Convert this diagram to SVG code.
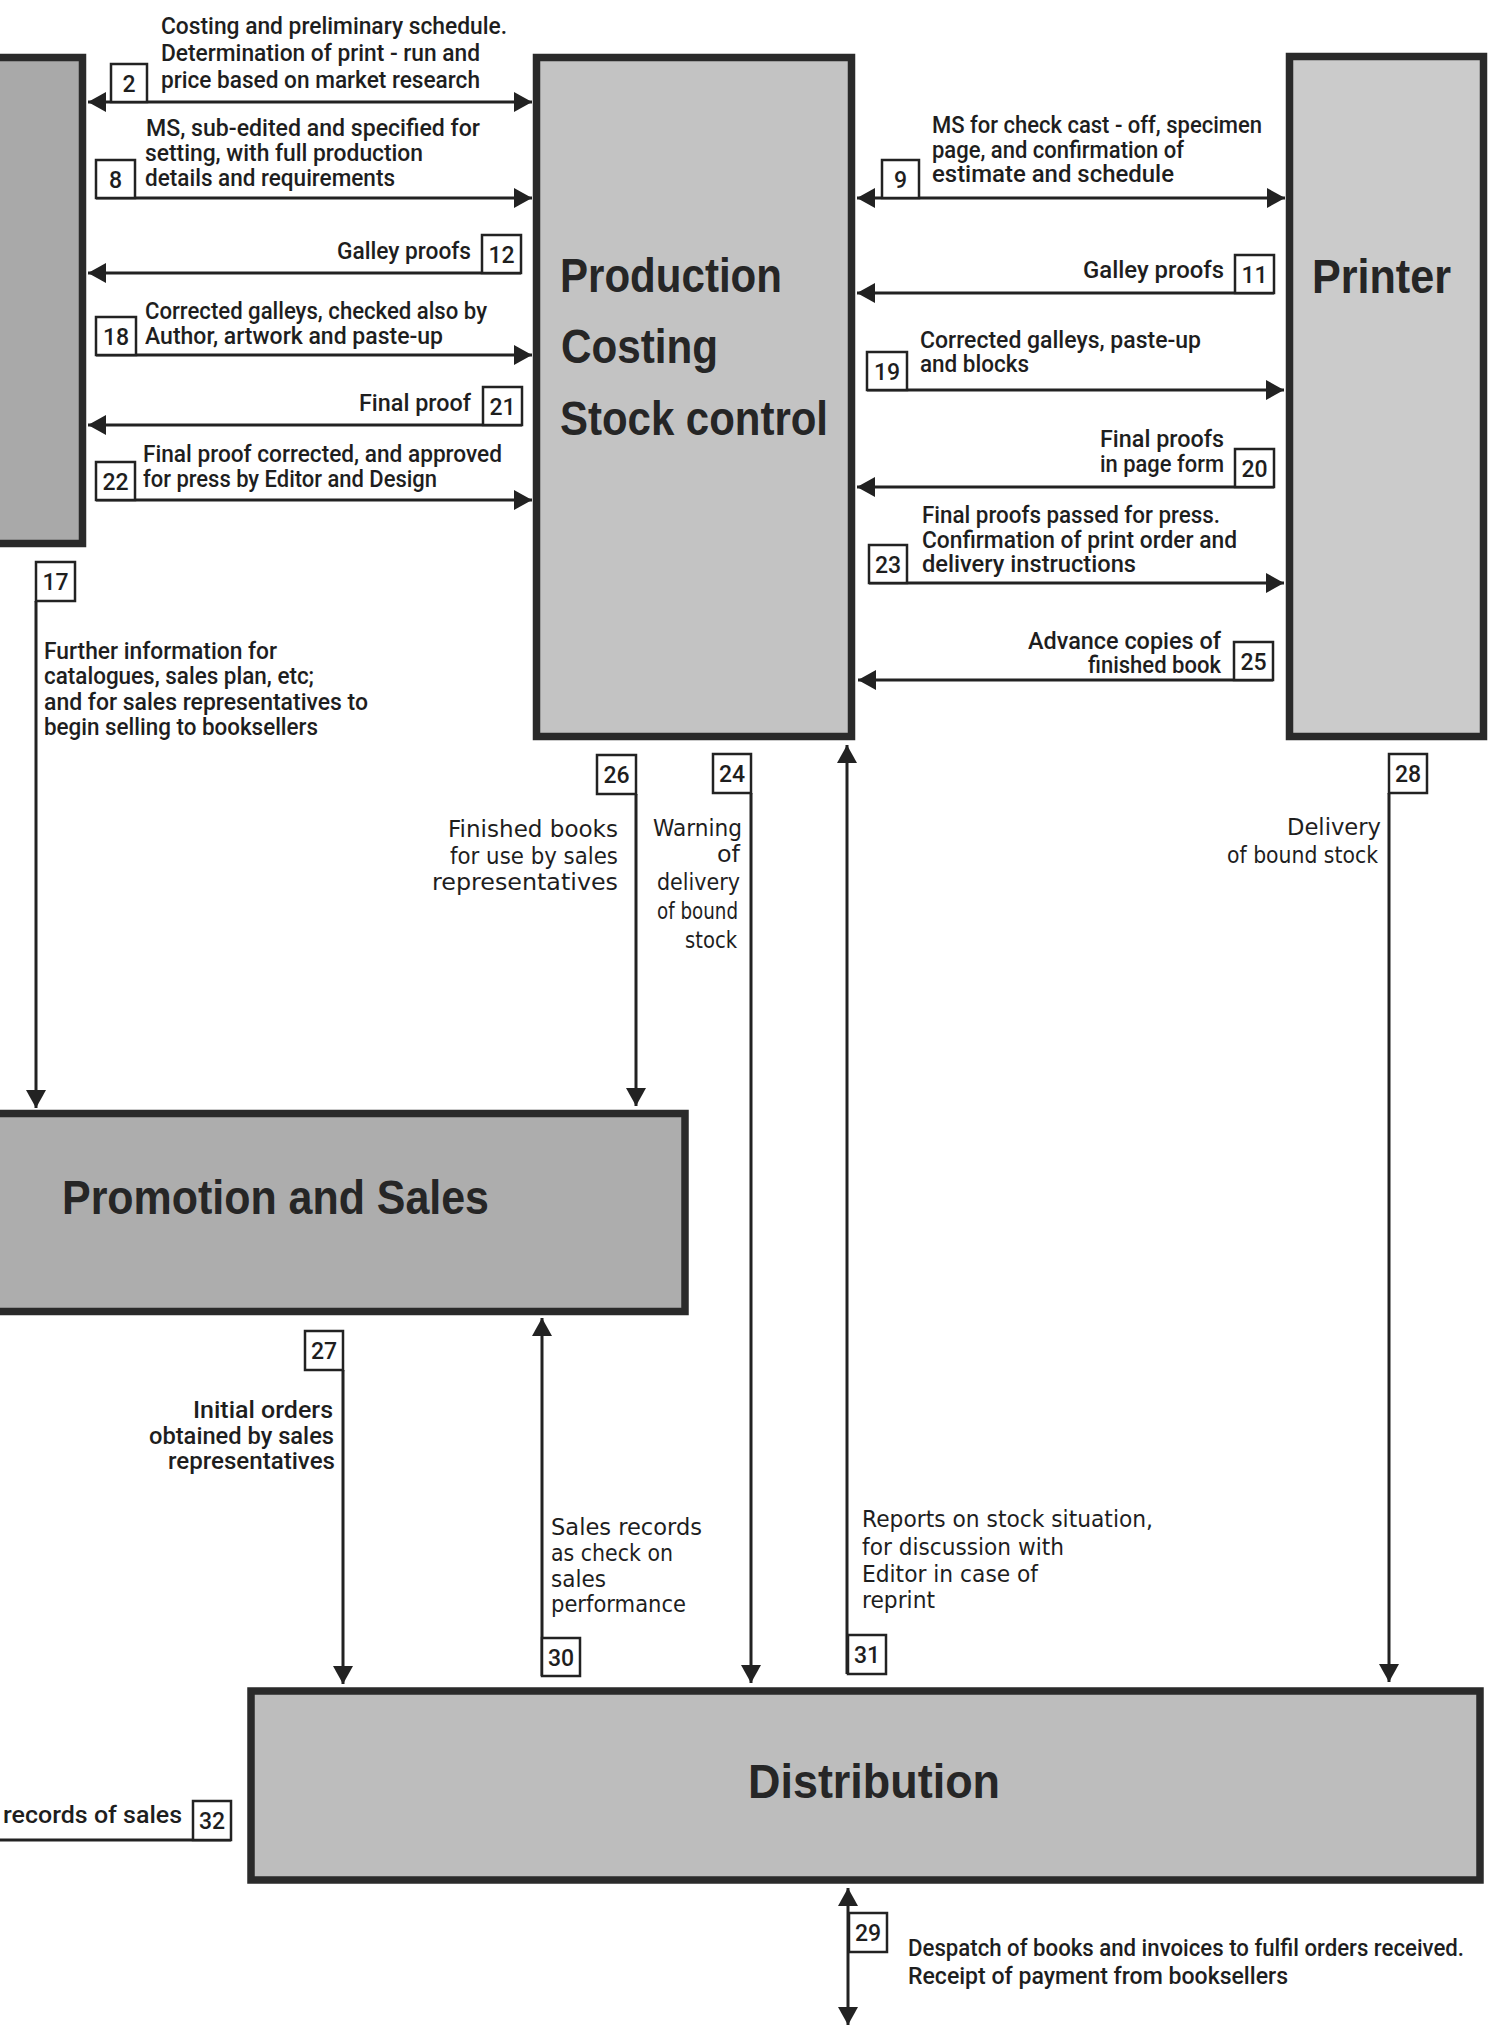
<svg xmlns="http://www.w3.org/2000/svg" width="1498" height="2025" viewBox="0 0 1498 2025">
<style>
.box{stroke:#2a2a2a;stroke-width:7.5}
.ln{stroke:#222;stroke-width:3;fill:none}
.nb{fill:#fff;stroke:#222;stroke-width:2.5}
.t{font-family:Roboto,"Liberation Sans",Arial,sans-serif;font-weight:500;font-size:24px;fill:#1e1e1e}
.r{font-family:"DejaVu Sans","Noto Sans",sans-serif;font-size:23px;fill:#1e1e1e}
.n{font-family:Roboto,"Liberation Sans",Arial,sans-serif;font-weight:500;font-size:23px;fill:#1e1e1e;text-anchor:middle}
.h{font-family:"Liberation Sans",Arial,sans-serif;font-weight:bold;font-size:48px;fill:#262626}
</style>
<defs>
<marker id="ah" viewBox="0 0 18 20" refX="18" refY="10" markerWidth="18" markerHeight="20" markerUnits="userSpaceOnUse" orient="auto-start-reverse"><path d="M0,0 L18,10 L0,20 z" fill="#222"/></marker>
</defs>
<rect width="1498" height="2025" fill="#fff"/>

<g id="editorial">
<rect class="box" x="-10" y="57.5" width="92.5" height="486" fill="#a9a9a9"/>
</g>
<g id="production">
<rect class="box" x="536.5" y="57.5" width="315" height="679" fill="#c3c3c3"/>
<text class="h" x="560" y="292" textLength="222" lengthAdjust="spacingAndGlyphs">Production</text>
<text class="h" x="561" y="363" textLength="157" lengthAdjust="spacingAndGlyphs">Costing</text>
<text class="h" x="560" y="435" textLength="268" lengthAdjust="spacingAndGlyphs">Stock control</text>
</g>
<g id="printer">
<rect class="box" x="1289.5" y="56.5" width="194" height="680" fill="#cbcbcb"/>
<text class="h" x="1312" y="293" textLength="139" lengthAdjust="spacingAndGlyphs">Printer</text>
</g>
<g id="promotion">
<rect class="box" x="-10" y="1113.5" width="695" height="198" fill="#adadad"/>
<text class="h" x="62" y="1214" textLength="427" lengthAdjust="spacingAndGlyphs">Promotion and Sales</text>
</g>
<g id="distribution">
<rect class="box" x="251" y="1691" width="1229" height="189" fill="#bdbdbd"/>
<text class="h" x="748" y="1798" textLength="252" lengthAdjust="spacingAndGlyphs">Distribution</text>
</g>

<g id="connectors">
<g id="c2">
<line class="ln" x1="88" y1="102" x2="532" y2="102" marker-start="url(#ah)" marker-end="url(#ah)"/>
<rect class="nb" x="111" y="64" width="36" height="38"/><text class="n" x="129" y="92">2</text>
<text class="t" x="161" y="34" textLength="346" lengthAdjust="spacingAndGlyphs">Costing and preliminary schedule.</text>
<text class="t" x="161" y="61" textLength="319" lengthAdjust="spacingAndGlyphs">Determination of print - run and</text>
<text class="t" x="161" y="88" textLength="319" lengthAdjust="spacingAndGlyphs">price based on market research</text>
</g>
<g id="c8">
<line class="ln" x1="96" y1="198" x2="532" y2="198" marker-end="url(#ah)"/>
<rect class="nb" x="96" y="160" width="39" height="38"/><text class="n" x="115.5" y="188">8</text>
<text class="t" x="146" y="136" textLength="334" lengthAdjust="spacingAndGlyphs">MS, sub-edited and specified for</text>
<text class="t" x="145" y="161" textLength="278" lengthAdjust="spacingAndGlyphs">setting, with full production</text>
<text class="t" x="145" y="186" textLength="250" lengthAdjust="spacingAndGlyphs">details and requirements</text>
</g>
<g id="c12">
<line class="ln" x1="88" y1="273" x2="521" y2="273" marker-start="url(#ah)"/>
<rect class="nb" x="482" y="235" width="39" height="38"/><text class="n" x="501.5" y="263">12</text>
<text class="t" x="337" y="259" textLength="134" lengthAdjust="spacingAndGlyphs">Galley proofs</text>
</g>
<g id="c18">
<line class="ln" x1="96" y1="355" x2="532" y2="355" marker-end="url(#ah)"/>
<rect class="nb" x="96" y="317" width="40" height="38"/><text class="n" x="116" y="345">18</text>
<text class="t" x="145" y="319" textLength="342" lengthAdjust="spacingAndGlyphs">Corrected galleys, checked also by</text>
<text class="t" x="145" y="344" textLength="298" lengthAdjust="spacingAndGlyphs">Author, artwork and paste-up</text>
</g>
<g id="c21">
<line class="ln" x1="88" y1="425" x2="522" y2="425" marker-start="url(#ah)"/>
<rect class="nb" x="483" y="387" width="39" height="38"/><text class="n" x="502.5" y="415">21</text>
<text class="t" x="359" y="411" textLength="112" lengthAdjust="spacingAndGlyphs">Final proof</text>
</g>
<g id="c22">
<line class="ln" x1="96" y1="500" x2="532" y2="500" marker-end="url(#ah)"/>
<rect class="nb" x="96" y="462" width="39" height="38"/><text class="n" x="115.5" y="490">22</text>
<text class="t" x="143" y="462" textLength="359" lengthAdjust="spacingAndGlyphs">Final proof corrected, and approved</text>
<text class="t" x="143" y="487" textLength="294" lengthAdjust="spacingAndGlyphs">for press by Editor and Design</text>
</g>
<g id="c9">
<line class="ln" x1="857" y1="198" x2="1285" y2="198" marker-start="url(#ah)" marker-end="url(#ah)"/>
<rect class="nb" x="882" y="160" width="37" height="38"/><text class="n" x="900.5" y="188">9</text>
<text class="t" x="932" y="133" textLength="330" lengthAdjust="spacingAndGlyphs">MS for check cast - off, specimen</text>
<text class="t" x="932" y="158" textLength="252" lengthAdjust="spacingAndGlyphs">page, and confirmation of</text>
<text class="t" x="932" y="182" textLength="242" lengthAdjust="spacingAndGlyphs">estimate and  schedule</text>
</g>
<g id="c11">
<line class="ln" x1="857" y1="293" x2="1274" y2="293" marker-start="url(#ah)"/>
<rect class="nb" x="1235" y="255" width="39" height="38"/><text class="n" x="1254.5" y="283">11</text>
<text class="t" x="1083" y="278" textLength="141" lengthAdjust="spacingAndGlyphs">Galley proofs</text>
</g>
<g id="c19">
<line class="ln" x1="867" y1="390" x2="1284" y2="390" marker-end="url(#ah)"/>
<rect class="nb" x="867" y="352" width="40" height="38"/><text class="n" x="887" y="380">19</text>
<text class="t" x="920" y="348" textLength="281" lengthAdjust="spacingAndGlyphs">Corrected  galleys, paste-up</text>
<text class="t" x="920" y="372" textLength="109" lengthAdjust="spacingAndGlyphs">and blocks</text>
</g>
<g id="c20">
<line class="ln" x1="857" y1="487" x2="1274" y2="487" marker-start="url(#ah)"/>
<rect class="nb" x="1235" y="449" width="39" height="38"/><text class="n" x="1254.5" y="477">20</text>
<text class="t" x="1100" y="447" textLength="124" lengthAdjust="spacingAndGlyphs">Final proofs</text>
<text class="t" x="1100" y="472" textLength="124" lengthAdjust="spacingAndGlyphs">in page form</text>
</g>
<g id="c23">
<line class="ln" x1="869" y1="583" x2="1284" y2="583" marker-end="url(#ah)"/>
<rect class="nb" x="869" y="545" width="38" height="38"/><text class="n" x="888" y="573">23</text>
<text class="t" x="922" y="523" textLength="298" lengthAdjust="spacingAndGlyphs">Final proofs passed  for press.</text>
<text class="t" x="922" y="548" textLength="315" lengthAdjust="spacingAndGlyphs">Confirmation of print order and</text>
<text class="t" x="922" y="572" textLength="214" lengthAdjust="spacingAndGlyphs">delivery instructions</text>
</g>
<g id="c25">
<line class="ln" x1="858" y1="680" x2="1273" y2="680" marker-start="url(#ah)"/>
<rect class="nb" x="1234" y="642" width="39" height="38"/><text class="n" x="1253.5" y="670">25</text>
<text class="t" x="1028" y="649" textLength="193" lengthAdjust="spacingAndGlyphs">Advance copies of</text>
<text class="t" x="1088" y="673" textLength="133" lengthAdjust="spacingAndGlyphs">finished book</text>
</g>
<g id="c17">
<line class="ln" x1="36" y1="601" x2="36" y2="1108" marker-end="url(#ah)"/>
<rect class="nb" x="36" y="562" width="39" height="39"/><text class="n" x="55.5" y="590">17</text>
<text class="t" x="44" y="659" textLength="233" lengthAdjust="spacingAndGlyphs">Further information for</text>
<text class="t" x="44" y="684" textLength="270" lengthAdjust="spacingAndGlyphs">catalogues, sales plan, etc;</text>
<text class="t" x="44" y="710" textLength="324" lengthAdjust="spacingAndGlyphs">and  for sales representatives to</text>
<text class="t" x="44" y="735" textLength="274" lengthAdjust="spacingAndGlyphs">begin selling to booksellers</text>
</g>
<g id="c26">
<line class="ln" x1="636" y1="794" x2="636" y2="1106" marker-end="url(#ah)"/>
<rect class="nb" x="597" y="755" width="39" height="39"/><text class="n" x="616.5" y="783">26</text>
<text class="r" x="448" y="837" textLength="170" lengthAdjust="spacingAndGlyphs">Finished books</text>
<text class="r" x="450" y="864" textLength="168" lengthAdjust="spacingAndGlyphs">for use by sales</text>
<text class="r" x="432" y="890" textLength="186" lengthAdjust="spacingAndGlyphs">representatives</text>
</g>
<g id="c24">
<line class="ln" x1="751" y1="793" x2="751" y2="1683" marker-end="url(#ah)"/>
<rect class="nb" x="713" y="754" width="38" height="39"/><text class="n" x="732" y="782">24</text>
<text class="r" x="653" y="836" textLength="89" lengthAdjust="spacingAndGlyphs">Warning</text>
<text class="r" x="717" y="862" textLength="23" lengthAdjust="spacingAndGlyphs">of</text>
<text class="r" x="657" y="890" textLength="83" lengthAdjust="spacingAndGlyphs">delivery</text>
<text class="r" x="657" y="919" textLength="81" lengthAdjust="spacingAndGlyphs">of bound</text>
<text class="r" x="685" y="948" textLength="52" lengthAdjust="spacingAndGlyphs">stock</text>
</g>
<g id="c28">
<line class="ln" x1="1389" y1="793" x2="1389" y2="1682" marker-end="url(#ah)"/>
<rect class="nb" x="1389" y="754" width="38" height="39"/><text class="n" x="1408" y="782">28</text>
<text class="r" x="1287" y="835" textLength="94" lengthAdjust="spacingAndGlyphs">Delivery</text>
<text class="r" x="1227" y="863" textLength="151" lengthAdjust="spacingAndGlyphs">of bound stock</text>
</g>
<g id="c31">
<line class="ln" x1="847" y1="1674" x2="847" y2="745" marker-end="url(#ah)"/>
<rect class="nb" x="848" y="1635" width="38" height="39"/><text class="n" x="867" y="1663">31</text>
<text class="r" x="862" y="1527" textLength="291" lengthAdjust="spacingAndGlyphs">Reports on stock situation,</text>
<text class="r" x="862" y="1555" textLength="202" lengthAdjust="spacingAndGlyphs">for discussion with</text>
<text class="r" x="862" y="1582" textLength="176" lengthAdjust="spacingAndGlyphs">Editor in case of</text>
<text class="r" x="862" y="1608" textLength="73" lengthAdjust="spacingAndGlyphs">reprint</text>
</g>
<g id="c27">
<line class="ln" x1="343" y1="1370" x2="343" y2="1684" marker-end="url(#ah)"/>
<rect class="nb" x="305" y="1331" width="38" height="39"/><text class="n" x="324" y="1359">27</text>
<text class="t" x="193" y="1418" textLength="140" lengthAdjust="spacingAndGlyphs">Initial orders</text>
<text class="t" x="149" y="1444" textLength="185" lengthAdjust="spacingAndGlyphs">obtained by sales</text>
<text class="t" x="168" y="1469" textLength="167" lengthAdjust="spacingAndGlyphs">representatives</text>
</g>
<g id="c30">
<line class="ln" x1="542" y1="1676" x2="542" y2="1318" marker-end="url(#ah)"/>
<rect class="nb" x="542" y="1638" width="38" height="38"/><text class="n" x="561" y="1666">30</text>
<text class="r" x="551" y="1535" textLength="151" lengthAdjust="spacingAndGlyphs">Sales records</text>
<text class="r" x="551" y="1561" textLength="122" lengthAdjust="spacingAndGlyphs">as check on</text>
<text class="r" x="551" y="1587" textLength="55" lengthAdjust="spacingAndGlyphs">sales</text>
<text class="r" x="551" y="1612" textLength="135" lengthAdjust="spacingAndGlyphs">performance</text>
</g>
<g id="c29">
<line class="ln" x1="848" y1="1888" x2="848" y2="2025" marker-start="url(#ah)" marker-end="url(#ah)"/>
<rect class="nb" x="849" y="1913" width="38" height="39"/><text class="n" x="868" y="1941">29</text>
<text class="t" x="908" y="1956" font-size="21" textLength="556" lengthAdjust="spacingAndGlyphs">Despatch of books and invoices to fulfil orders received.</text>
<text class="t" x="908" y="1984" font-size="22" textLength="380" lengthAdjust="spacingAndGlyphs">Receipt of payment from booksellers</text>
</g>
<g id="c32">
<line class="ln" x1="0" y1="1840" x2="231" y2="1840"/>
<rect class="nb" x="193" y="1801" width="38" height="39"/><text class="n" x="212" y="1829">32</text>
<text class="t" x="3" y="1823" textLength="179" lengthAdjust="spacingAndGlyphs">records of sales</text>
</g>
</g>
</svg>
